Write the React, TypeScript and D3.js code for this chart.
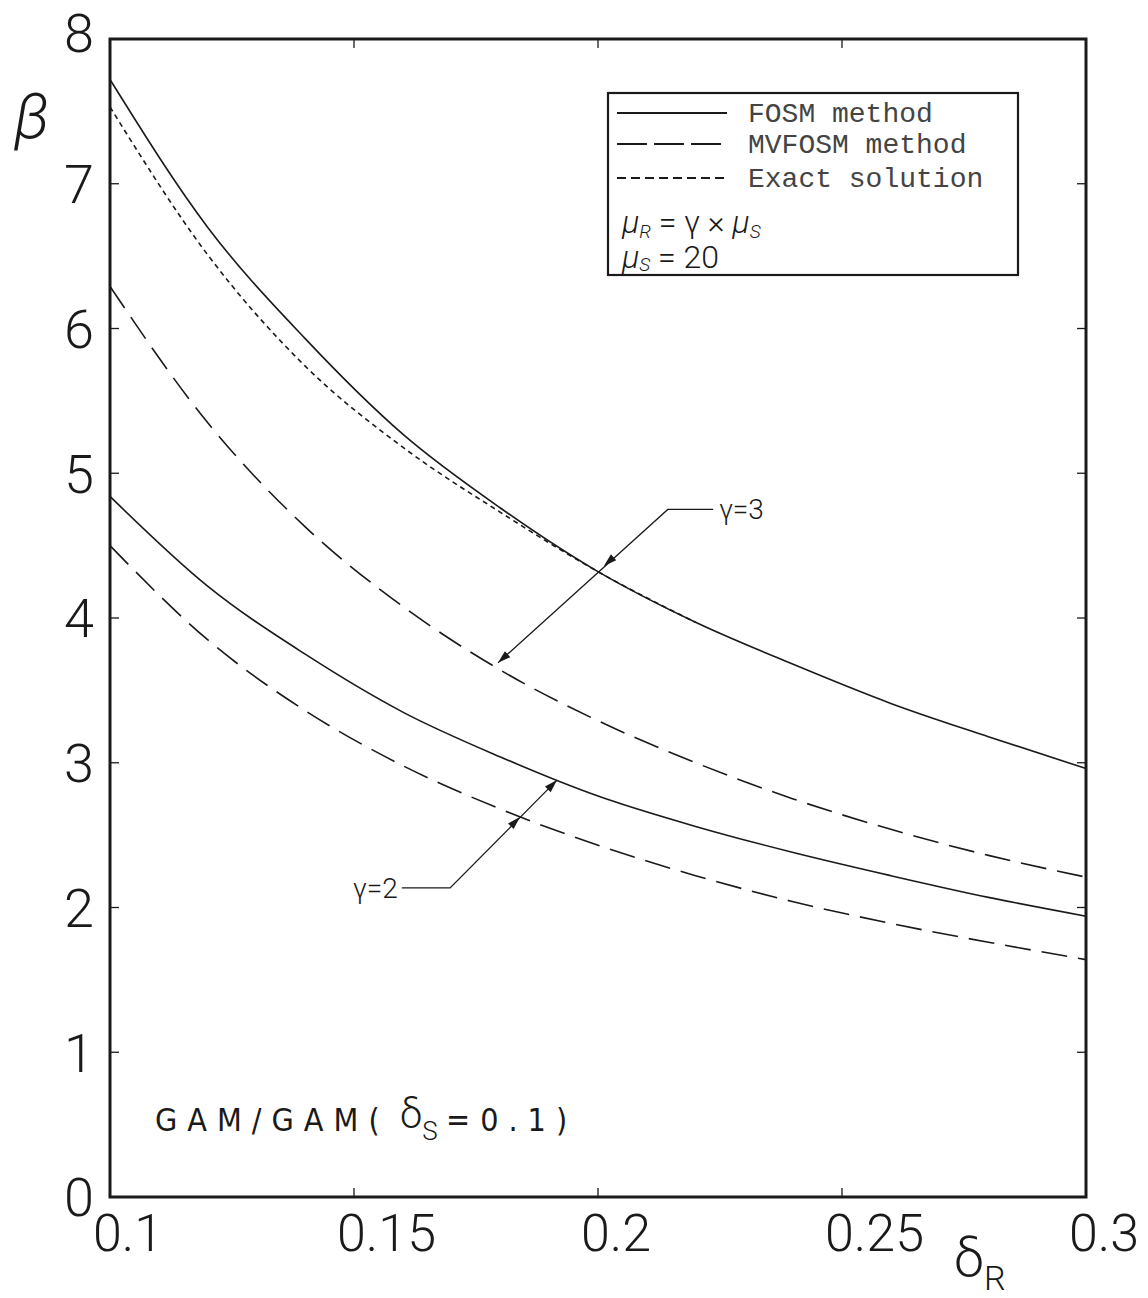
import React from "react";
import * as d3 from "d3";

// Coefficient of variation of resistance, δR
const deltaR = [0.1, 0.12, 0.14, 0.16, 0.18, 0.2, 0.22, 0.24, 0.26, 0.28, 0.3];
// Reliability index β for γ = 3
const fosmG3 = [7.72, 6.7, 5.93, 5.27, 4.76, 4.32, 3.97, 3.68, 3.41, 3.18, 2.96];
const mvfosmG3 = [6.29, 5.35, 4.63, 4.08, 3.64, 3.29, 3.0, 2.75, 2.54, 2.36, 2.21];
const exactDeltaR = [0.1, 0.12, 0.14, 0.16, 0.18, 0.2, 0.22];
const exactG3 = [7.53, 6.51, 5.74, 5.18, 4.73, 4.32, 3.97];
// Reliability index β for γ = 2
const fosmG2 = [4.84, 4.22, 3.75, 3.35, 3.04, 2.77, 2.56, 2.38, 2.22, 2.07, 1.94];
const mvfosmG2 = [4.5, 3.85, 3.36, 2.98, 2.68, 2.43, 2.22, 2.04, 1.89, 1.76, 1.64];

const xTicks = [0.1, 0.15, 0.2, 0.25, 0.3];
const xTickLabels = ["0.1", "0.15", "0.2", "0.25", "0.3"];
const yTicks = [0, 1, 2, 3, 4, 5, 6, 7, 8];

// Leader lines for the γ labels, in data units [δR, β]
const gamma3Leader = [[0.2236, 4.75], [0.2143, 4.75], [0.1795, 3.69]];
const gamma3Heads = [[0.2012, 4.36], [0.1795, 3.69]];
const gamma2Leader = [[0.1598, 2.135], [0.1697, 2.135], [0.1916, 2.88]];
const gamma2Heads = [[0.184, 2.625], [0.1916, 2.88]];

const W = 1148;
const H = 1298;
const ink = "#1a1a1a";
const handFont = "Roboto, 'Open Sans', 'DejaVu Sans', sans-serif";
const plotFont = "'Liberation Sans Narrow', 'DejaVu Sans Condensed', sans-serif";

export default function App() {
  const x = d3.scaleLinear().domain([0.1, 0.3]).range([110, 1086]);
  const y = d3.scaleLinear().domain([0, 8]).range([1197, 39]);

  const line = d3
    .line<[number, number]>()
    .x((d) => x(d[0]))
    .y((d) => y(d[1]))
    .curve(d3.curveMonotoneX);
  const poly = d3
    .line<number[]>()
    .x((d) => x(d[0]))
    .y((d) => y(d[1]));

  const pts = (xs: number[], ys: number[]) => xs.map((v, i) => [v, ys[i]] as [number, number]);

  const series = [
    { vals: pts(deltaR, fosmG3), dash: undefined },
    { vals: pts(deltaR, fosmG2), dash: undefined },
    { vals: pts(deltaR, mvfosmG3), dash: "26 11" },
    { vals: pts(deltaR, mvfosmG2), dash: "26 11" },
    { vals: pts(exactDeltaR, exactG3), dash: "5 4" },
  ];

  // Small filled barb pointing along the leader from `from` to `tip`
  const head = (from: number[], tip: number[], key: string) => {
    const fx = x(from[0]), fy = y(from[1]);
    const tx = x(tip[0]), ty = y(tip[1]);
    const a = Math.atan2(ty - fy, tx - fx);
    const len = 13, wid = 4;
    const bx = tx - len * Math.cos(a), by = ty - len * Math.sin(a);
    const p1 = [bx + wid * Math.sin(a), by - wid * Math.cos(a)];
    const p2 = [bx - wid * Math.sin(a), by + wid * Math.cos(a)];
    return (
      <polygon
        key={key}
        points={`${tx},${ty} ${p1[0]},${p1[1]} ${p2[0]},${p2[1]}`}
        fill={ink}
      />
    );
  };

  const x0 = x(0.1), x1 = x(0.3), yTop = y(8), yBot = y(0);

  return (
    <svg
      width={W}
      height={H}
      viewBox={`0 0 ${W} ${H}`}
      style={{ position: "absolute", left: 0, top: 0, background: "#fff" }}
    >
      <rect x={0} y={0} width={W} height={H} fill="#fff" />

      {/* curves */}
      {series.map((s, i) => (
        <path
          key={i}
          d={line(s.vals) || ""}
          fill="none"
          stroke={ink}
          strokeWidth={1.6}
          strokeDasharray={s.dash}
        />
      ))}

      {/* frame */}
      <rect
        x={x0}
        y={yTop}
        width={x1 - x0}
        height={yBot - yTop}
        fill="none"
        stroke={ink}
        strokeWidth={3}
      />

      {/* y ticks, both sides, pointing inward */}
      {yTicks.slice(1, -1).map((t) => (
        <g key={"yt" + t}>
          <line x1={x0} x2={x0 + 9} y1={y(t)} y2={y(t)} stroke={ink} strokeWidth={1.3} />
          <line x1={x1} x2={x1 - 9} y1={y(t)} y2={y(t)} stroke={ink} strokeWidth={1.3} />
        </g>
      ))}
      {/* x ticks, top and bottom */}
      {xTicks.slice(1, -1).map((t) => (
        <g key={"xt" + t}>
          <line x1={x(t)} x2={x(t)} y1={yBot} y2={yBot - 9} stroke={ink} strokeWidth={1.3} />
          <line x1={x(t)} x2={x(t)} y1={yTop} y2={yTop + 9} stroke={ink} strokeWidth={1.3} />
        </g>
      ))}

      {/* y tick labels */}
      {yTicks.map((t) => (
        <text
          key={"yl" + t}
          x={79}
          y={y(t) + (t === 8 ? -6 : 0)}
          dy="0.36em"
          textAnchor="middle"
          fontFamily={handFont}
          fontWeight={300}
          fontSize={54}
          fill={ink}
        >
          {t}
        </text>
      ))}

      {/* x tick labels */}
      {xTicks.map((t, i) => (
        <text
          key={"xl" + t}
          x={x(t) - 17}
          y={yBot + 35}
          dy="0.36em"
          textAnchor="start"
          fontFamily={handFont}
          fontWeight={300}
          fontSize={52}
          fill={ink}
        >
          {xTickLabels[i]}
        </text>
      ))}

      {/* axis titles */}
      <text x={14} y={138} fontFamily={handFont} fontStyle="italic" fontWeight={300} fontSize={62} fill={ink}>
        β
      </text>
      <text x={954} y={1276} fontFamily={handFont} fontWeight={300} fontSize={54} fill={ink}>
        δ
        <tspan dy={14} fontSize={34}>R</tspan>
      </text>

      {/* legend */}
      <rect x={608} y={93} width={410} height={182} fill="#fff" stroke={ink} strokeWidth={2.2} />
      {[
        { label: "FOSM method", dash: undefined, yy: 113 },
        { label: "MVFOSM method", dash: "30 7", yy: 144 },
        { label: "Exact solution", dash: "9 5", yy: 178 },
      ].map((r) => (
        <g key={r.label}>
          <line x1={617} x2={727} y1={r.yy} y2={r.yy} stroke={ink} strokeWidth={1.8} strokeDasharray={r.dash} />
          <text
            x={748}
            y={r.yy}
            dy="0.33em"
            fontFamily="'Liberation Mono', 'DejaVu Sans Mono', monospace"
            fontSize={28}
            fill="#444"
          >
            {r.label}
          </text>
        </g>
      ))}
      <text x={622} y={233} fontFamily={handFont} fontWeight={300} fontSize={32} fill={ink}>
        <tspan fontStyle="italic">μ</tspan>
        <tspan dy={5} fontSize={19} fontStyle="italic">R</tspan>
        <tspan dy={-5}> = γ × </tspan>
        <tspan fontStyle="italic">μ</tspan>
        <tspan dy={5} fontSize={19} fontStyle="italic">S</tspan>
      </text>
      <text x={622} y={268} fontFamily={handFont} fontWeight={300} fontSize={32} fill={ink}>
        <tspan fontStyle="italic">μ</tspan>
        <tspan dy={3} fontSize={19} fontStyle="italic">S</tspan>
        <tspan dy={-3}> = 20</tspan>
      </text>

      {/* γ leaders */}
      <path d={poly(gamma3Leader) || ""} fill="none" stroke={ink} strokeWidth={1.3} />
      {head(gamma3Leader[1], gamma3Heads[0], "h31")}
      {head(gamma3Leader[1], gamma3Heads[1], "h32")}
      <text x={x(gamma3Leader[0][0]) + 6} y={y(gamma3Leader[0][1])} dy="0.35em" fontFamily={handFont} fontWeight={300} fontSize={28} fill={ink}>
        γ=3
      </text>
      <path d={poly(gamma2Leader) || ""} fill="none" stroke={ink} strokeWidth={1.3} />
      {head(gamma2Leader[1], gamma2Heads[0], "h21")}
      {head(gamma2Leader[1], gamma2Heads[1], "h22")}
      <text x={x(gamma2Leader[0][0]) - 4} y={y(gamma2Leader[0][1])} dy="0.35em" textAnchor="end" fontFamily={handFont} fontWeight={300} fontSize={28} fill={ink}>
        γ=2
      </text>

      {/* case note */}
      <text x={155} y={1131} fontFamily={plotFont} fontSize={32} letterSpacing={10} fill={ink}>
        GAM/GAM(
      </text>
      <text x={400} y={1128} fontFamily={handFont} fontWeight={300} fontSize={40} fill={ink}>
        δ
        <tspan dy={12} fontSize={26}>S</tspan>
      </text>
      <text x={446} y={1131} fontFamily={plotFont} fontSize={32} letterSpacing={10} fill={ink}>
        =0.1)
      </text>
    </svg>
  );
}
